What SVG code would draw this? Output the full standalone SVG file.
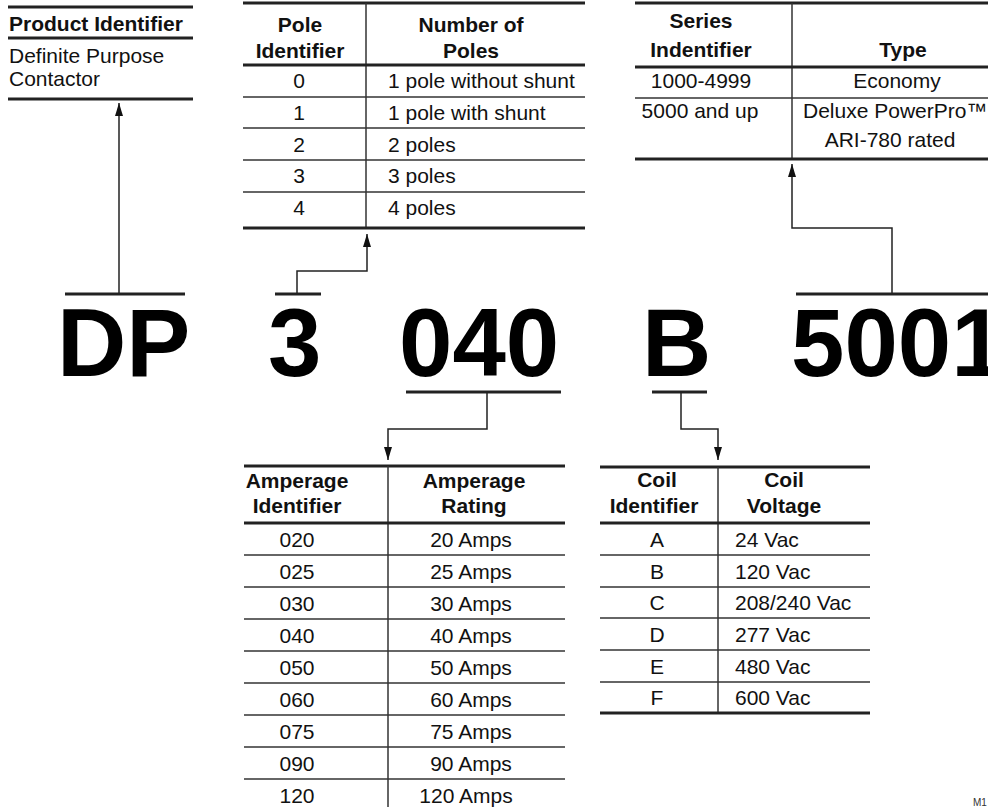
<svg xmlns="http://www.w3.org/2000/svg" width="988" height="807" viewBox="0 0 988 807">
<style>
text{font-family:"Liberation Sans",Arial,sans-serif;fill:#111}
.t{font-size:21px}
.b{font-size:21px;font-weight:bold}
.c{text-anchor:middle}
.big{font-size:96px;font-weight:bold;fill:#000}
.thick{stroke:#222;stroke-width:3;fill:none}
.thin{stroke:#333;stroke-width:1.5;fill:none}
.conn{stroke:#222;stroke-width:1.5;fill:none}
</style>
<defs>
<marker id="arr" viewBox="0 0 13 8" refX="13" refY="4" markerWidth="13" markerHeight="8" markerUnits="userSpaceOnUse" orient="auto">
<path d="M0,0 L13,4 L0,8 z" fill="#111"/>
</marker>
</defs>
<rect width="988" height="807" fill="#fff"/>

<g id="product-table">
<line class="thick" x1="8" y1="7" x2="193" y2="7"/>
<text class="b" x="9" y="31">Product Identifier</text>
<line class="thick" x1="8" y1="38" x2="193" y2="38"/>
<text class="t" x="9" y="63">Definite Purpose</text>
<text class="t" x="9" y="86">Contactor</text>
<line class="thick" x1="8" y1="99" x2="193" y2="99"/>
</g>

<g id="pole-table">
<line class="thick" x1="243" y1="3" x2="585" y2="3"/>
<line class="thin" x1="366" y1="3" x2="366" y2="228"/>
<text class="b c" x="300" y="32">Pole</text>
<text class="b c" x="300" y="58">Identifier</text>
<text class="b c" x="471" y="32">Number of</text>
<text class="b c" x="471" y="58">Poles</text>
<line class="thick" x1="243" y1="65" x2="585" y2="65"/>
<text class="t c" x="299" y="88">0</text><text class="t" x="388" y="88">1 pole without shunt</text>
<line class="thin" x1="243" y1="97" x2="585" y2="97"/>
<text class="t c" x="299" y="120">1</text><text class="t" x="388" y="120">1 pole with shunt</text>
<line class="thin" x1="243" y1="128" x2="585" y2="128"/>
<text class="t c" x="299" y="152">2</text><text class="t" x="388" y="152">2 poles</text>
<line class="thin" x1="243" y1="160" x2="585" y2="160"/>
<text class="t c" x="299" y="183">3</text><text class="t" x="388" y="183">3 poles</text>
<line class="thin" x1="243" y1="192" x2="585" y2="192"/>
<text class="t c" x="299" y="215">4</text><text class="t" x="388" y="215">4 poles</text>
<line class="thick" x1="243" y1="228" x2="585" y2="228"/>
</g>

<g id="series-table">
<line class="thick" x1="635" y1="3" x2="988" y2="3"/>
<line class="thin" x1="792" y1="3" x2="792" y2="159"/>
<text class="b c" x="701" y="28">Series</text>
<text class="b c" x="701" y="57">Indentifier</text>
<text class="b c" x="903" y="57">Type</text>
<line class="thick" x1="635" y1="67" x2="988" y2="67"/>
<text class="t c" x="701" y="88">1000-4999</text>
<text class="t c" x="897" y="88">Economy</text>
<line class="thin" x1="635" y1="98" x2="988" y2="98"/>
<text class="t c" x="700" y="118">5000 and up</text>
<text class="t" x="803" y="118">Deluxe PowerPro™</text>
<text class="t c" x="890" y="147">ARI-780 rated</text>
<line class="thick" x1="635" y1="159" x2="988" y2="159"/>
</g>

<g id="code-DP">
<line class="thick" x1="65" y1="294" x2="185" y2="294"/>
<text class="big" x="57" y="376">DP</text>
</g>
<g id="code-3">
<line class="thick" x1="275" y1="294" x2="321" y2="294"/>
<text class="big" x="268" y="376">3</text>
</g>
<g id="code-040">
<text class="big" x="399" y="376">040</text>
<line class="thick" x1="406" y1="392" x2="561" y2="392"/>
</g>
<g id="code-B">
<text class="big" x="642" y="376">B</text>
<line class="thick" x1="652" y1="392" x2="707" y2="392"/>
</g>
<g id="code-5001">
<line class="thick" x1="796" y1="294" x2="988" y2="294"/>
<text class="big" x="791" y="376">5001</text>
</g>

<g id="connectors">
<path class="conn" d="M119,293 V103" marker-end="url(#arr)"/>
<path class="conn" d="M297,293 V271 H367 V234" marker-end="url(#arr)"/>
<path class="conn" d="M892,293 V228 H792 V164" marker-end="url(#arr)"/>
<path class="conn" d="M487,392 V429 H388 V460" marker-end="url(#arr)"/>
<path class="conn" d="M681,392 V429 H718 V460" marker-end="url(#arr)"/>
</g>

<g id="amperage-table">
<line class="thick" x1="244" y1="466" x2="565" y2="466"/>
<line class="thin" x1="388" y1="466" x2="388" y2="807"/>
<text class="b c" x="297" y="488">Amperage</text>
<text class="b c" x="297" y="513">Identifier</text>
<text class="b c" x="474" y="488">Amperage</text>
<text class="b c" x="474" y="513">Rating</text>
<line class="thick" x1="244" y1="523" x2="565" y2="523"/>
<text class="t c" x="297" y="547">020</text><text class="t c" x="471" y="547">20 Amps</text>
<line class="thin" x1="244" y1="555" x2="565" y2="555"/>
<text class="t c" x="297" y="579">025</text><text class="t c" x="471" y="579">25 Amps</text>
<line class="thin" x1="244" y1="587" x2="565" y2="587"/>
<text class="t c" x="297" y="611">030</text><text class="t c" x="471" y="611">30 Amps</text>
<line class="thin" x1="244" y1="619" x2="565" y2="619"/>
<text class="t c" x="297" y="643">040</text><text class="t c" x="471" y="643">40 Amps</text>
<line class="thin" x1="244" y1="651" x2="565" y2="651"/>
<text class="t c" x="297" y="675">050</text><text class="t c" x="471" y="675">50 Amps</text>
<line class="thin" x1="244" y1="683" x2="565" y2="683"/>
<text class="t c" x="297" y="707">060</text><text class="t c" x="471" y="707">60 Amps</text>
<line class="thin" x1="244" y1="715" x2="565" y2="715"/>
<text class="t c" x="297" y="739">075</text><text class="t c" x="471" y="739">75 Amps</text>
<line class="thin" x1="244" y1="747" x2="565" y2="747"/>
<text class="t c" x="297" y="771">090</text><text class="t c" x="471" y="771">90 Amps</text>
<line class="thin" x1="244" y1="779" x2="565" y2="779"/>
<text class="t c" x="297" y="803">120</text><text class="t c" x="466" y="803">120 Amps</text>
</g>

<g id="coil-table">
<line class="thick" x1="600" y1="467" x2="870" y2="467"/>
<line class="thin" x1="718" y1="467" x2="718" y2="713"/>
<text class="b c" x="657" y="487">Coil</text>
<text class="b c" x="654" y="513">Identifier</text>
<text class="b c" x="784" y="487">Coil</text>
<text class="b c" x="784" y="513">Voltage</text>
<line class="thick" x1="600" y1="523" x2="870" y2="523"/>
<text class="t c" x="657" y="547">A</text><text class="t" x="735" y="547">24 Vac</text>
<line class="thin" x1="600" y1="555" x2="870" y2="555"/>
<text class="t c" x="657" y="579">B</text><text class="t" x="735" y="579">120 Vac</text>
<line class="thin" x1="600" y1="587" x2="870" y2="587"/>
<text class="t c" x="657" y="610">C</text><text class="t" x="735" y="610">208/240 Vac</text>
<line class="thin" x1="600" y1="618" x2="870" y2="618"/>
<text class="t c" x="657" y="642">D</text><text class="t" x="735" y="642">277 Vac</text>
<line class="thin" x1="600" y1="650" x2="870" y2="650"/>
<text class="t c" x="657" y="674">E</text><text class="t" x="735" y="674">480 Vac</text>
<line class="thin" x1="600" y1="682" x2="870" y2="682"/>
<text class="t c" x="657" y="705">F</text><text class="t" x="735" y="705">600 Vac</text>
<line class="thick" x1="600" y1="713" x2="870" y2="713"/>
</g>

<text x="973" y="806" style="font-size:10px;fill:#333">M1</text>
</svg>
